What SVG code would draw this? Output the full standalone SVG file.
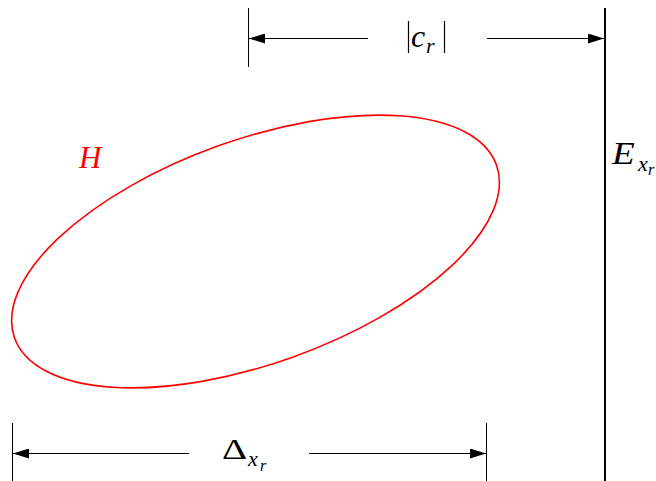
<svg xmlns="http://www.w3.org/2000/svg" width="656" height="481" viewBox="0 0 656 481">
<defs>
<marker id="ah" viewBox="0 0 16 10" refX="16" refY="5" markerWidth="16" markerHeight="10" markerUnits="userSpaceOnUse" orient="auto">
<path d="M0,0 L16,5 L0,10 z" fill="#000"/>
</marker>
</defs>
<style>
.dim{stroke:#000;stroke-width:1;fill:none}
.tick{stroke:#000;stroke-width:1}
</style>
<rect width="656" height="481" fill="#fff"/>
<g id="H">
<ellipse cx="255.5" cy="251.5" rx="256" ry="112" transform="rotate(-19.75 255.5 251.5)" fill="none" stroke="#ff0000" stroke-width="1.6"/>
<text x="79" y="168" font-family="'Liberation Serif', serif" font-style="italic" font-size="31" fill="#ff0000">H</text>
</g>
<g id="E">
<line x1="605" y1="8" x2="605" y2="481" stroke="#000" stroke-width="2"/>
<text transform="translate(612,164) scale(1.2,1)" font-family="'Liberation Serif', serif" font-style="italic" font-size="31" fill="#000">E</text>
<text x="638" y="171" font-family="'Liberation Serif', serif" font-style="italic" font-size="22" fill="#000">x</text>
<text x="648" y="175" font-family="'Liberation Serif', serif" font-style="italic" font-size="16" fill="#000">r</text>
</g>
<g id="connectors">
<line class="tick" x1="248.5" y1="8" x2="248.5" y2="67"/>
<line class="dim" x1="368" y1="38.5" x2="249" y2="38.5" marker-end="url(#ah)"/>
<line class="dim" x1="487" y1="38.5" x2="604" y2="38.5" marker-end="url(#ah)"/>
<line class="tick" x1="12.5" y1="423" x2="12.5" y2="481"/>
<line class="tick" x1="486.5" y1="423" x2="486.5" y2="481"/>
<line class="dim" x1="189" y1="453.5" x2="13" y2="453.5" marker-end="url(#ah)"/>
<line class="dim" x1="309" y1="453.5" x2="486" y2="453.5" marker-end="url(#ah)"/>
</g>
<g id="labels">
<line x1="408.5" y1="21" x2="408.5" y2="53" stroke="#000" stroke-width="1.2"/>
<line x1="444.5" y1="21" x2="444.5" y2="53" stroke="#000" stroke-width="1.2"/>
<text x="411" y="47" font-family="'Liberation Serif', serif" font-style="italic" font-size="32" fill="#000">c</text>
<text x="426" y="53" font-family="'Liberation Serif', serif" font-style="italic" font-size="22" fill="#000">r</text>
<text transform="translate(222,459) scale(1.3,1)" font-family="'Liberation Serif', serif" font-size="30" fill="#000">Δ</text>
<text x="248" y="466" font-family="'Liberation Serif', serif" font-style="italic" font-size="22" fill="#000">x</text>
<text x="260" y="471" font-family="'Liberation Serif', serif" font-style="italic" font-size="16" fill="#000">r</text>
</g>
</svg>
